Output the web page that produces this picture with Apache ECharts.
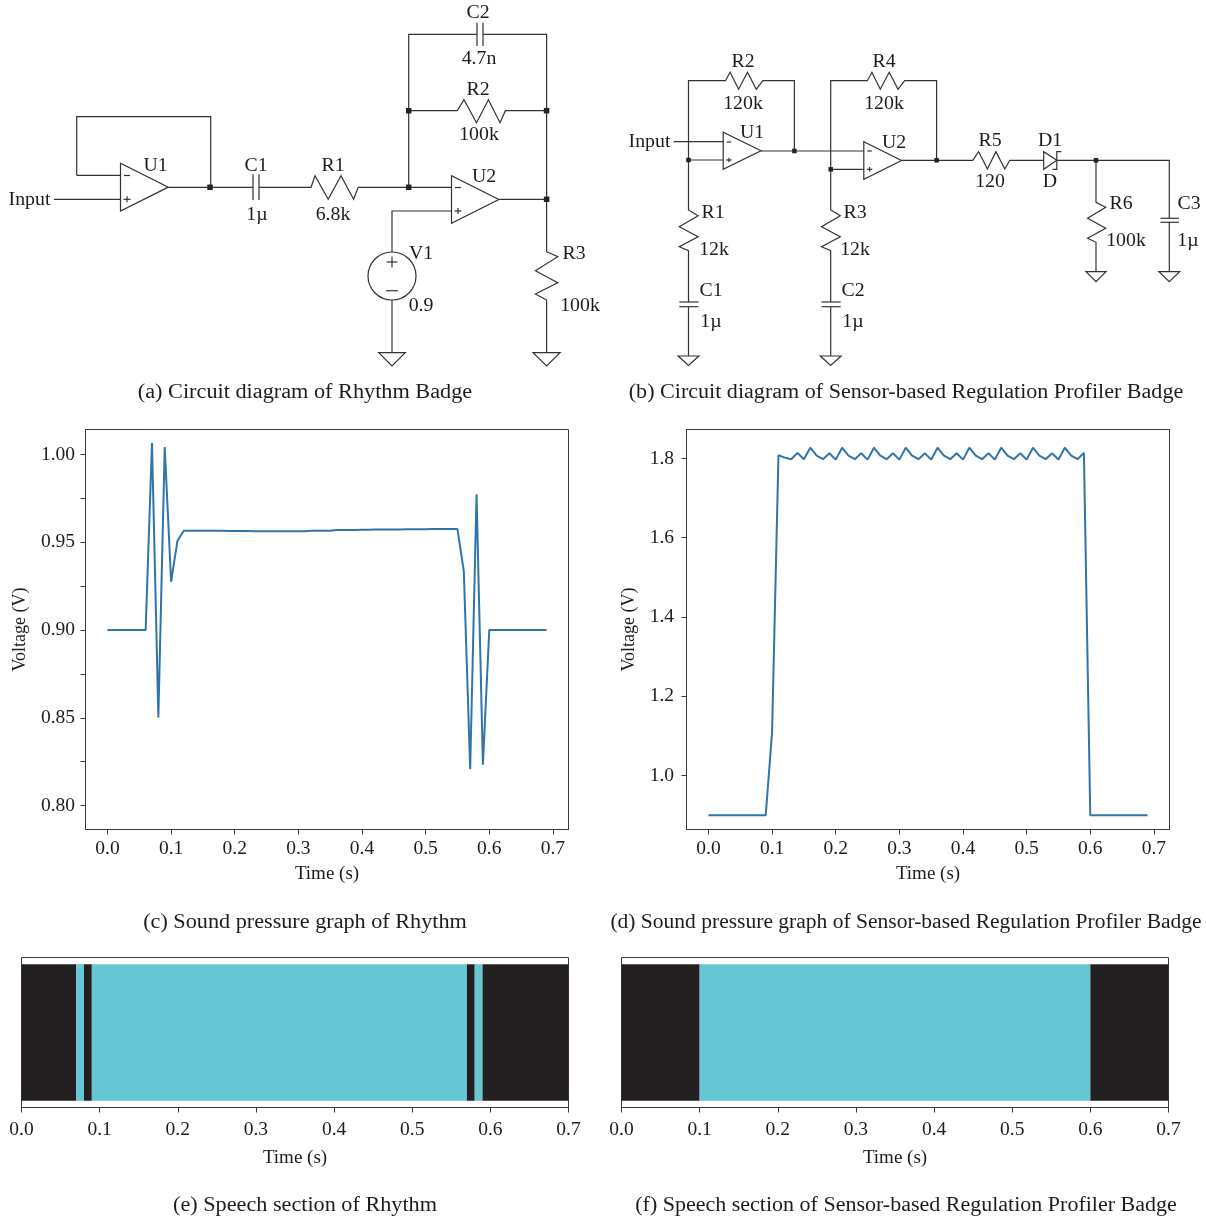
<!DOCTYPE html>
<html><head><meta charset="utf-8">
<style>html,body{margin:0;padding:0;background:#fff}#c{width:1206px;height:1218px}</style>
<script src="https://cdn.jsdelivr.net/npm/echarts@6/dist/echarts.min.js"></script>
</head><body><div id="c"></div>
<script>
// ---------- data ----------
const timeSeconds = [0,0.01,0.02,0.03,0.04,0.05,0.06,0.07,0.08,0.09,0.10,0.11,0.12,0.13,0.14,0.15,0.16,0.17,0.18,0.19,0.20,0.21,0.22,0.23,0.24,0.25,0.26,0.27,0.28,0.29,0.30,0.31,0.32,0.33,0.34,0.35,0.36,0.37,0.38,0.39,0.40,0.41,0.42,0.43,0.44,0.45,0.46,0.47,0.48,0.49,0.50,0.51,0.52,0.53,0.54,0.55,0.56,0.57,0.58,0.59,0.60,0.61,0.62,0.63,0.64,0.65,0.66,0.67,0.68,0.69];
const rhythmVoltage = [0.9,0.9,0.9,0.9,0.9,0.9,0.9,1.0065,0.8502,1.0042,0.9275,0.9508,0.9565,0.9566,0.9566,0.9566,0.9565,0.9565,0.9565,0.9564,0.9564,0.9564,0.9564,0.9563,0.9563,0.9563,0.9562,0.9562,0.9562,0.9562,0.9562,0.9563,0.9566,0.9566,0.9566,0.9566,0.9570,0.9570,0.9570,0.9570,0.9571,0.9571,0.9572,0.9572,0.9573,0.9573,0.9573,0.9574,0.9574,0.9574,0.9574,0.9575,0.9575,0.9575,0.9575,0.9575,0.9335,0.8208,0.9773,0.8233,0.9,0.9,0.9,0.9,0.9,0.9,0.9,0.9,0.9,0.9];
const profilerVoltage = [0.9,0.9,0.9,0.9,0.9,0.9,0.9,0.9,0.9,0.9,1.11,1.808,1.802,1.798,1.814,1.798,1.827,1.807,1.798,1.813,1.797,1.827,1.807,1.798,1.813,1.797,1.827,1.807,1.798,1.813,1.797,1.827,1.807,1.798,1.813,1.797,1.827,1.807,1.798,1.813,1.797,1.827,1.807,1.798,1.813,1.797,1.827,1.807,1.798,1.813,1.797,1.827,1.807,1.798,1.813,1.797,1.827,1.807,1.798,1.814,0.9,0.9,0.9,0.9,0.9,0.9,0.9,0.9,0.9,0.9];
// speech sections: [start, end, isSpeech]
const rhythmSections = [[0,0.07,0],[0.07,0.08,1],[0.08,0.09,0],[0.09,0.57,1],[0.57,0.58,0],[0.58,0.59,1],[0.59,0.70,0]];
const profilerSections = [[0,0.10,0],[0.10,0.60,1],[0.60,0.70,0]];
const timeTicks = [0,0.1,0.2,0.3,0.4,0.5,0.6,0.7];
const rhythmYLabels = [0.80,0.85,0.90,0.95,1.00];
const rhythmYTicks = [0.800,0.825,0.850,0.875,0.900,0.925,0.950,0.975,1.000];
const profilerYTicks = [1.0,1.2,1.4,1.6,1.8];
const captionA = '(a) Circuit diagram of Rhythm Badge';
const captionB = '(b) Circuit diagram of Sensor-based Regulation Profiler Badge';
const captionC = '(c) Sound pressure graph of Rhythm';
const captionD = '(d) Sound pressure graph of Sensor-based Regulation Profiler Badge';
const captionE = '(e) Speech section of Rhythm';
const captionF = '(f) Speech section of Sensor-based Regulation Profiler Badge';
// ---------- style ----------
const FONT='"Liberation Serif","Times New Roman",serif';
const INK='#1c1c1c', FRAME='#3a3a3a', WIRE='#333', BLUE='#2f75aa', TEAL='#66c6d4', DARK='#231f20';

function pair(y){return timeSeconds.map((t,i)=>[t,y[i]]);}
function axisStyle(ticks,labels,digits,margin,extra){
  return {
    axisLine:{show:true,onZero:false,lineStyle:{color:FRAME,width:1}},
    axisTick:{show:true,length:5,customValues:ticks,lineStyle:{color:FRAME,width:1}},
    axisLabel:Object.assign({customValues:labels,formatter:v=>v.toFixed(digits),margin,color:INK,fontFamily:FONT,fontSize:19.5},extra||{}),
    splitLine:{show:false}
  };
}
function xAxis(grid,min,max,gap,margin){
  return Object.assign({type:'value',gridIndex:grid,min,max,name:'Time (s)',nameLocation:'middle',nameGap:gap,
    nameTextStyle:{color:INK,fontFamily:FONT,fontSize:19}},axisStyle(timeTicks,timeTicks,1,margin));
}
function yAxis(grid,min,max,ticks,labels,digits,gap,margin){
  return Object.assign({type:'value',gridIndex:grid,min,max,name:'Voltage (V)',nameLocation:'middle',nameGap:gap,
    nameTextStyle:{color:INK,fontFamily:FONT,fontSize:18}},axisStyle(ticks,labels,digits,margin,{padding:[3,0,0,0]}));
}
function sectionSeries(idx,sections){
  return {type:'custom',xAxisIndex:idx,yAxisIndex:idx,data:sections,silent:true,
    encode:{x:[0,1]},
    renderItem:(p,api)=>{
      const a=api.coord([api.value(0),1]), b=api.coord([api.value(1),0]);
      return {type:'rect',shape:{x:a[0],y:a[1],width:b[0]-a[0],height:b[1]-a[1]},
        style:{fill:api.value(2)?TEAL:DARK}};
    }};
}
const gridBox=(l,t,w,h)=>({left:l,top:t,width:w,height:h,show:true,borderColor:FRAME,borderWidth:1,backgroundColor:'#fff',containLabel:false});

// ---------- schematic helpers ----------
const G=[];
const wire=(...pts)=>G.push({type:'polyline',silent:true,shape:{points:pts},style:{stroke:WIRE,lineWidth:1.2,fill:null}});
const closed=(...pts)=>G.push({type:'polygon',silent:true,shape:{points:pts},style:{stroke:WIRE,lineWidth:1.2,fill:null}});
const node=(x,y,s)=>G.push({type:'rect',silent:true,shape:{x:x-s/2,y:y-s/2,width:s,height:s},style:{fill:'#222'}});
const txt=(s,x,y,size,sx)=>G.push({type:'text',silent:true,x,y:y+1,scaleX:sx||1.1,scaleY:1,
  style:{text:s,x:0,y:0,fill:INK,font:(size||18)+'px '+FONT,textAlign:'center',textVerticalAlign:'middle'}});
const ground=(x,y,hw,h)=>closed([x-hw,y],[x+hw,y],[x,y+h]);
function opamp(l,t,b,tipx,s,inM,inP){
  closed([l,t],[l,b],[tipx,(t+b)/2]);
  wire([l+3.5,inM],[l+s+3.5,inM]);
  wire([l+3,inP],[l+s+4,inP]); wire([l+3.5+s/2,inP-s/2],[l+3.5+s/2,inP+s/2]);
}

// circuit (a)
wire([54,199.3],[120.5,199.3]);
wire([76.7,175.3],[76.7,116.7],[210.7,116.7],[210.7,187.3]);
wire([76.7,175.3],[120.5,175.3]);
opamp(120.5,163.3,211,168.3,6,175.5,199.3);
wire([168.3,187.3],[253,187.3]);
wire([253,174.3],[253,200]); wire([259,174.3],[259,200]);
wire([259,187.3],[311,187.3],[315,175.7],[328.2,199.3],[341,175.7],[353.6,199.3],[358.2,187.3],[451.5,187.3]);
opamp(451.5,175.7,223.3,498.8,6,187.5,211);
wire([498.8,199.3],[546.6,199.3]);
wire([408.7,187.3],[408.7,34.3],[477,34.3]);
wire([483,34.3],[546.6,34.3],[546.6,251.7],[557.8,256.7],[535.4,270.7],[557.8,282.7],[535.4,294],[546.6,300],[546.6,352.7]);
wire([477,22.7],[477,46]); wire([483,22.7],[483,46]);
wire([408.7,110.7],[457.2,110.7],[464,99.7],[476.5,122.7],[488.4,99.7],[500,122.7],[505.4,110.7],[546.6,110.7]);
wire([451.5,211],[392,211],[392,252]);
G.push({type:'circle',silent:true,shape:{cx:392,cy:276,r:24},style:{stroke:WIRE,lineWidth:1.2,fill:null}});
wire([386.5,262],[397.5,262]); wire([392,256.5],[392,267.5]); wire([386,290.7],[398,290.7]);
wire([392,300],[392,352.7]);
ground(392,352.7,13.3,13.3); ground(546.6,352.7,13.5,13.3);
[[210,187.3],[408.7,187.3],[408.7,110.7],[546.6,110.7],[546.6,199.3]].forEach(p=>node(p[0],p[1],5.5));
txt('Input',29.5,199); txt('U1',155.5,165); txt('C1',256,165); txt('1µ',257,214); txt('R1',333,165); txt('6.8k',333,214);
txt('U2',484,176); txt('C2',478,12); txt('4.7n',479,58); txt('R2',478,89); txt('100k',479,134);
txt('V1',421,253); txt('0.9',421,305); txt('R3',574,253); txt('100k',580,305);

// circuit (b)
wire([688.5,160],[688.5,80.7],[725.5,80.7],[730.1,72.3],[738.6,89.3],[747.5,72.3],[756.3,89.3],[762.9,80.7],[794.4,80.7],[794.4,151]);
wire([673.5,141.7],[723.2,141.7]);
wire([688.5,160],[723.2,160]);
opamp(723.2,132.3,169.3,761,4.5,142,160);
wire([761,151],[863.8,151]);
wire([830.7,169.3],[830.7,80.7],[867.3,80.7],[871.9,72.3],[880.3,89.3],[889.2,72.3],[898,89.3],[904.6,80.7],[936.6,80.7],[936.6,160.3]);
wire([830.7,169.3],[863.8,169.3]);
opamp(863.8,141.7,179.3,901.5,4.5,151,169.3);
wire([901.5,160.3],[972.8,160.3],[978.6,151.7],[987.4,169],[995.9,151.7],[1004.8,169],[1009.8,160.3],[1043.7,160.3]);
closed([1043.7,151.7],[1043.7,169.3],[1056.8,160.3]);
wire([1061.4,151.7],[1056.8,151.7],[1056.8,169.3],[1052.5,169.3]);
wire([1056.8,160.3],[1169.3,160.3],[1169.3,218.3]);
wire([1160.4,218.3],[1178.9,218.3]); wire([1160.4,222.3],[1178.9,222.3]);
wire([1169.3,222.3],[1169.3,271.7]);
ground(1169.3,271.7,10.4,10);
wire([1096,160.3],[1096,202.3],[1105.7,207.3],[1087.6,218.3],[1105.7,228.3],[1087.6,238.3],[1096,242.3],[1096,271.7]);
ground(1096,271.7,10,10);
[688.5,830.7].forEach(x=>{
  const top=x<700?160:169.3;
  wire([x,top],[x,210],[x+9.6,215.7],[x-9.2,226.7],[x+9.6,236.7],[x-9.2,246.7],[x,250.7],[x,302]);
  wire([x-9.2,302],[x+10,302]); wire([x-9.2,306.7],[x+10,306.7]);
  wire([x,306.7],[x,356]);
  ground(x,356,10.4,9.5);
});
[[688.5,160],[794.4,151],[830.7,169.3],[936.6,160.3],[1096,160.3]].forEach(p=>node(p[0],p[1],4.5));
txt('Input',649.5,141); txt('R2',743,61); txt('120k',743,103); txt('U1',752,132); txt('R4',884,61); txt('120k',884,103); txt('U2',894,142);
txt('R5',990,140); txt('120',990,181); txt('D1',1050,140); txt('D',1050,181);
txt('R1',713,212); txt('12k',714,249); txt('C1',711,290); txt('1µ',711,321);
txt('R3',855,212); txt('12k',855,249); txt('C2',853,290); txt('1µ',853,321);
txt('R6',1121,203); txt('100k',1126,240); txt('C3',1189,203); txt('1µ',1188,240);

// captions
txt(captionA,305,392,20,1.113); txt(captionB,906,392,20,1.104);
txt(captionC,305,922,20,1.11);  txt(captionD,906,922,20,1.076);
txt(captionE,305,1205,20,1.11); txt(captionF,906,1205,20,1.10);

// ---------- chart ----------
const chart=echarts.init(document.getElementById('c'),null,{renderer:'canvas'});
chart.setOption({
  animation:false,
  backgroundColor:'#fff',
  grid:[gridBox(85.5,429.5,483,400),gridBox(686.5,429.5,483,400),gridBox(21.5,957.5,547,150),gridBox(621.5,957.5,547,150)],
  xAxis:[xAxis(0,-0.0345,0.7245,35,9.5),xAxis(1,-0.0345,0.7245,35,9.5),xAxis(2,0,0.7,41,12),xAxis(3,0,0.7,41,12)],
  yAxis:[
    yAxis(0,0.7864,1.0142,rhythmYTicks,rhythmYLabels,2,56,10.5),
    yAxis(1,0.864,1.873,profilerYTicks,profilerYTicks,1,48,12.5),
    {type:'value',gridIndex:2,min:-0.05,max:1.05,show:false},
    {type:'value',gridIndex:3,min:-0.05,max:1.05,show:false}
  ],
  series:[
    {type:'line',xAxisIndex:0,yAxisIndex:0,data:pair(rhythmVoltage),showSymbol:false,silent:true,lineStyle:{color:BLUE,width:2}},
    {type:'line',xAxisIndex:1,yAxisIndex:1,data:pair(profilerVoltage),showSymbol:false,silent:true,lineStyle:{color:BLUE,width:2}},
    sectionSeries(2,rhythmSections),
    sectionSeries(3,profilerSections)
  ],
  graphic:{elements:G}
});
</script></body></html>
